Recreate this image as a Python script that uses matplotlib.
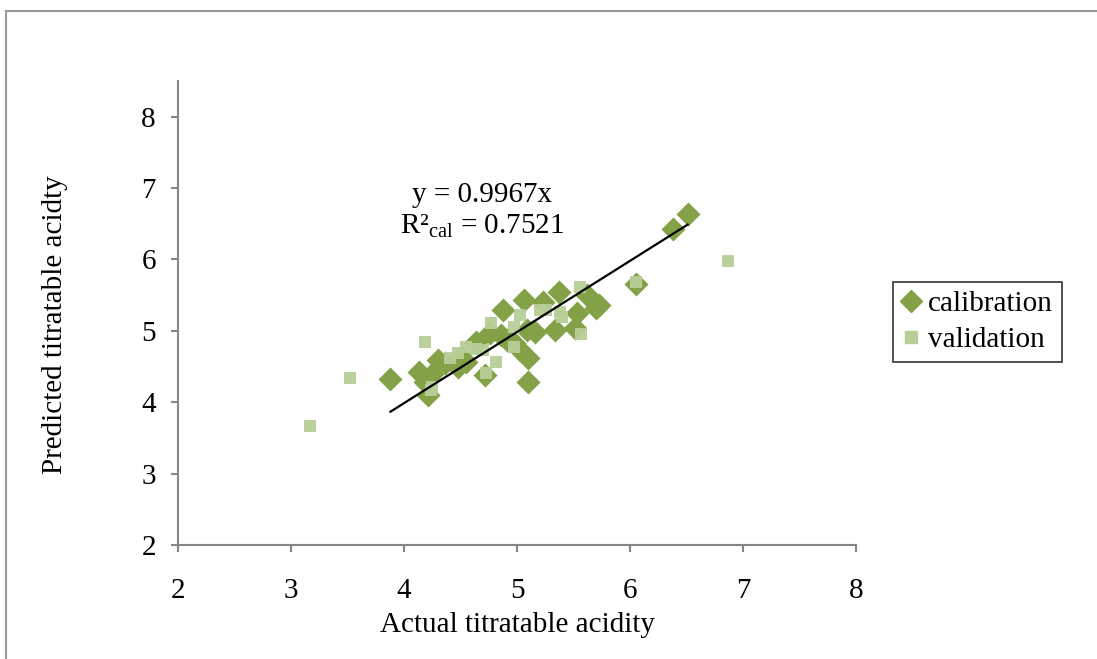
import matplotlib
matplotlib.use("Agg")
import matplotlib.pyplot as plt
from matplotlib.lines import Line2D
import numpy as np

cal_x = [3.88, 4.13, 4.21, 4.19, 4.30, 4.36, 4.48, 4.55, 4.64, 4.72, 4.76, 4.88, 4.86, 4.97,
         5.06, 5.09, 5.10, 5.10, 5.16, 5.23, 5.34, 5.37, 5.53, 5.51, 5.62, 5.73, 5.70, 5.03,
         4.50, 4.25, 4.91, 6.05, 6.38, 6.51]
cal_y = [4.33, 4.43, 4.10, 4.29, 4.59, 4.55, 4.50, 4.57, 4.85, 4.38, 4.97, 5.29, 4.94, 4.83,
         5.43, 5.01, 4.62, 4.29, 4.99, 5.41, 5.01, 5.55, 5.25, 5.04, 5.50, 5.36, 5.32, 4.73,
         4.64, 4.40, 4.87, 5.66, 6.43, 6.64]

val_x = [3.17, 3.52, 4.19, 4.25, 4.24, 4.41, 4.48, 4.55, 4.64, 4.70, 4.77, 4.81, 4.73, 4.97,
         4.97, 5.03, 5.20, 5.26, 5.38, 5.40, 5.56, 5.57, 6.05, 6.87]
val_y = [3.67, 4.34, 4.85, 4.22, 4.17, 4.62, 4.69, 4.78, 4.75, 4.73, 5.11, 4.57, 4.41, 5.06,
         4.78, 5.22, 5.29, 5.29, 5.27, 5.20, 5.62, 4.96, 5.69, 5.98]

slope = 0.9967
fit_x = [min(cal_x), max(cal_x)]

x_ticks = [2, 3, 4, 5, 6, 7, 8]
y_ticks = [2, 3, 4, 5, 6, 7, 8]

plt.rcParams['font.family'] = ['Liberation Serif', 'DejaVu Serif']

fig = plt.figure(figsize=(10.97, 6.59), dpi=100)
W, H = 1097, 659
ax = fig.add_axes([178 / W, 1 - 545 / H, (856 - 178) / W, (545 - 81) / H])

cal_color = '#83A147'
val_color = '#B7CE98'
FS = 21

ax.scatter(cal_x, cal_y, marker='D', s=150, color=cal_color, zorder=3, linewidths=0)
ax.scatter(val_x, val_y, marker='s', s=80, color=val_color, zorder=4, linewidths=0, alpha=0.95)
ax.plot(fit_x, [slope * v for v in fit_x], color='black', lw=1.6, zorder=5)

ax.set_xlim(2, 8)
ax.set_ylim(2, 8.5)
ax.set_xticks(x_ticks)
ax.set_yticks(y_ticks)
ax.tick_params(direction='out', length=5, width=1.5, color='#868686', labelsize=FS)
ax.tick_params(axis='x', pad=19)
ax.tick_params(axis='y', pad=11)
for s in ['top', 'right']:
    ax.spines[s].set_visible(False)
for s in ['left', 'bottom']:
    ax.spines[s].set_color('#868686')
    ax.spines[s].set_linewidth(1.5)

ax.set_xlabel('Actual titratable acidity', fontsize=FS)
ax.set_ylabel('Predicted titratable acidty', fontsize=FS)
ax.xaxis.set_label_coords(0.5, -(612 - 545) / 464, transform=ax.transAxes)
ax.yaxis.set_label_coords((68 - 178) / 678, (545 - 325) / 464, transform=ax.transAxes)

ax.text(4.69, 6.91, 'y = 0.9967x', fontsize=FS, ha='center', va='center')
ax.text(4.69, 6.47, r'R²$_{\mathregular{cal}}$ = 0.7521', fontsize=FS, ha='center', va='center')

handles = [Line2D([], [], marker='D', ls='', color=cal_color, markersize=11),
           Line2D([], [], marker='s', ls='', color=val_color, markersize=9)]
leg = fig.legend(handles, ['calibration', 'validation'], loc='upper left',
                 bbox_to_anchor=(893 / W, 1 - 282 / H), fontsize=FS, frameon=True,
                 fancybox=False, edgecolor='black', handlelength=0.6, handletextpad=0.3,
                 borderpad=0.3, labelspacing=0.32, borderaxespad=0)
leg.get_frame().set_linewidth(1.2)

# outer chart border (top and left visible)
fig.add_artist(Line2D([6 / W, 1], [1 - 11 / H, 1 - 11 / H], transform=fig.transFigure, color='#9A9A9A', lw=1.5))
fig.add_artist(Line2D([6 / W, 6 / W], [0, 1 - 11 / H], transform=fig.transFigure, color='#9A9A9A', lw=1.5))

fig.savefig('out.png', dpi=100)
